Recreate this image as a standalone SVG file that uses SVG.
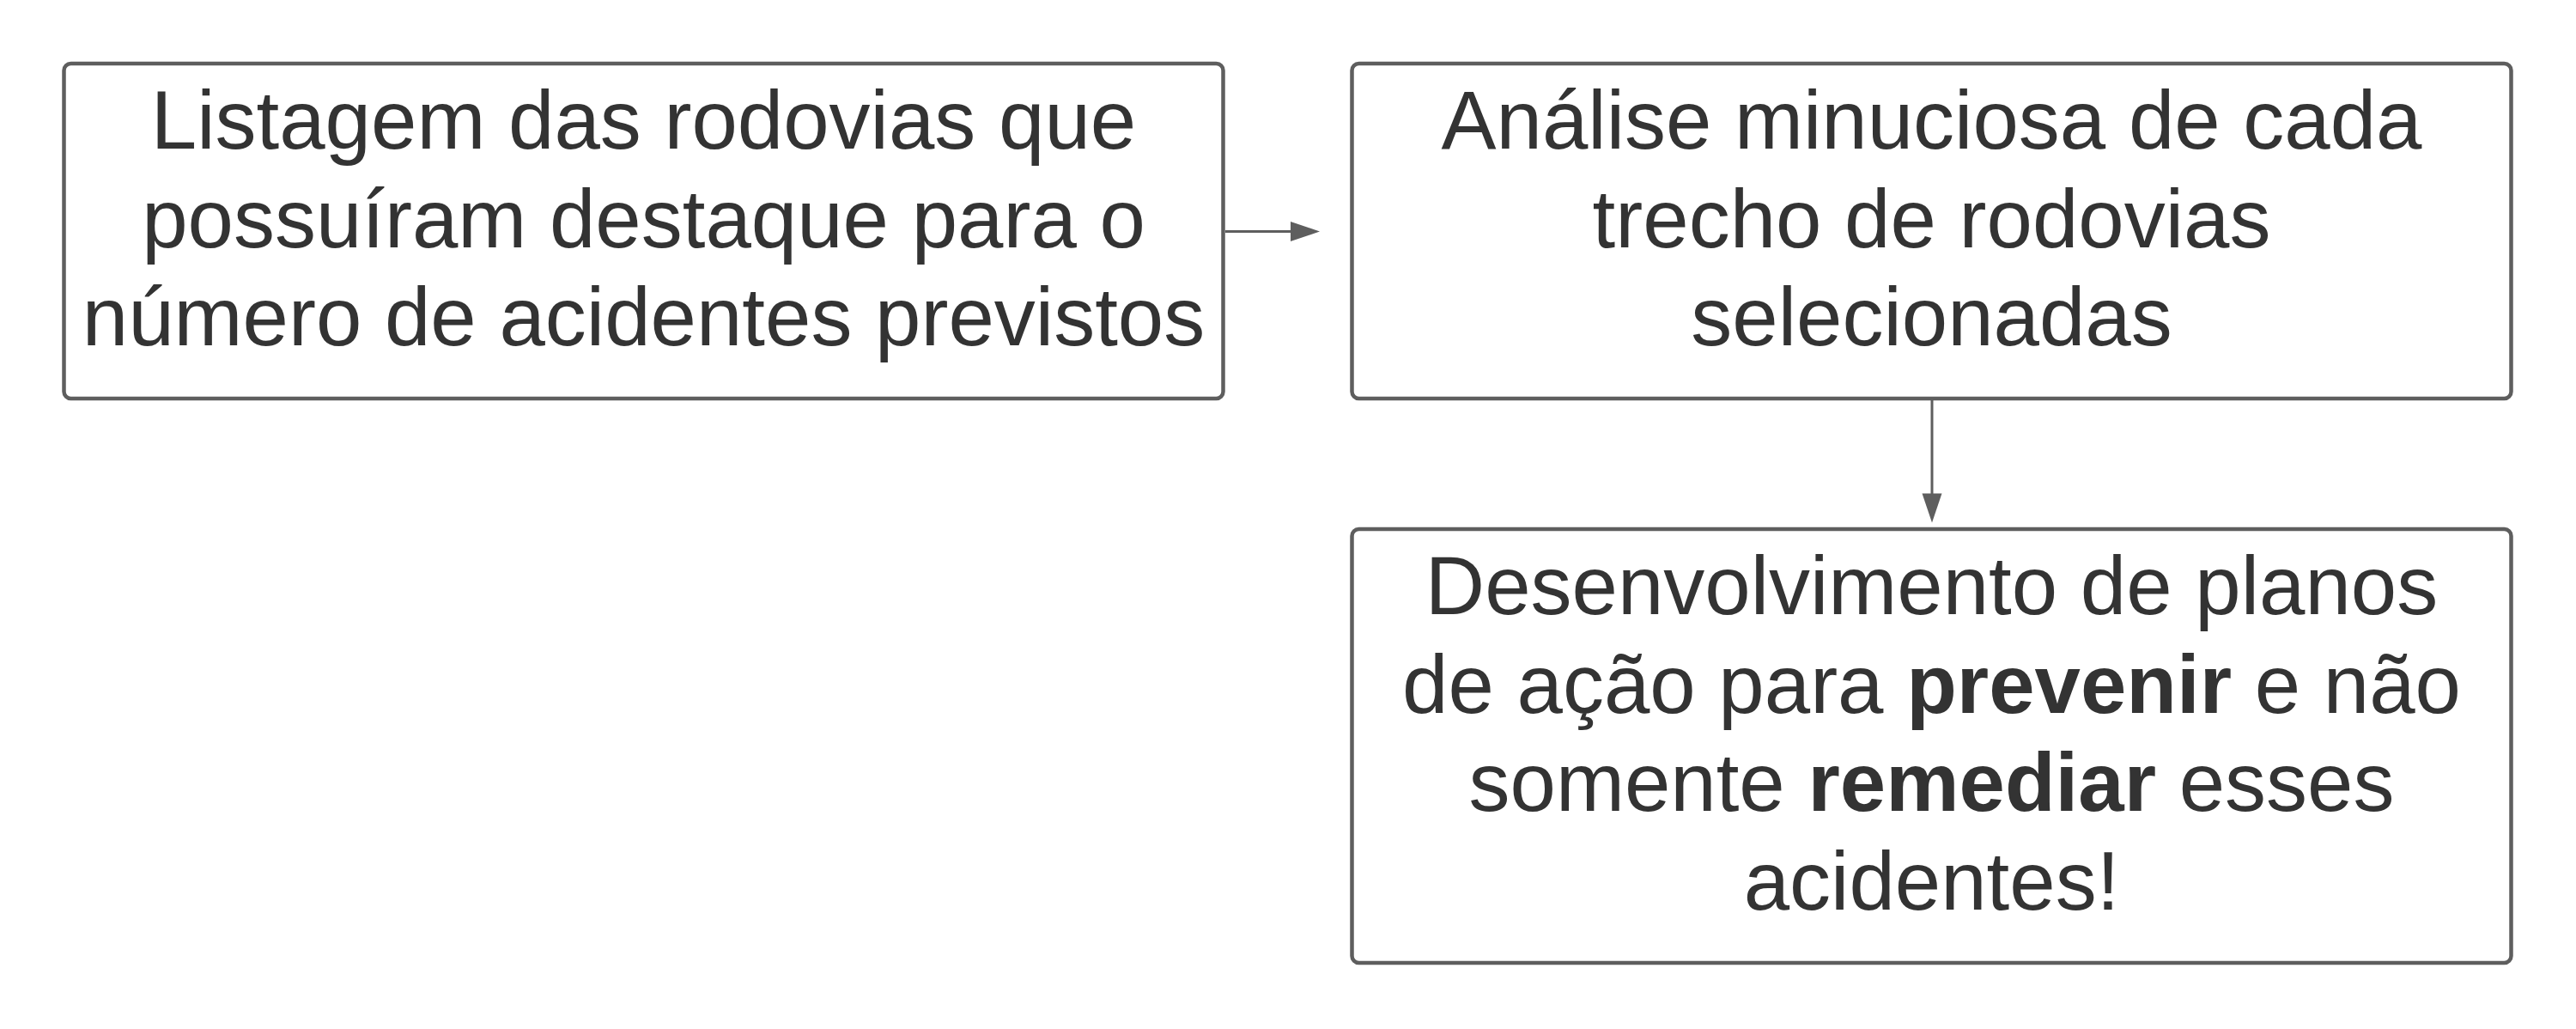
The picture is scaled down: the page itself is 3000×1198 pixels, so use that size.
<svg xmlns="http://www.w3.org/2000/svg" width="3000" height="1198" viewBox="0 0 3000 1198">
<defs>
<style>
.box{fill:#ffffff;stroke:#5e5e5e;stroke-width:4.5}
.t{font-family:"Liberation Sans",Arial,sans-serif;font-size:96px;fill:#333333;text-anchor:middle}
.b{font-weight:bold}
.c{stroke:#5e5e5e;stroke-width:3;fill:none}
.ah{fill:#5e5e5e;stroke:none}
</style>
</defs>
<rect width="3000" height="1198" fill="#ffffff"/>
<g id="node1">
<rect class="box" x="74.5" y="74" width="1350" height="390" rx="8"/>
<text class="t" x="749.5" y="173">Listagem das rodovias que</text>
<text class="t" x="749.5" y="287.5">possuíram destaque para o</text>
<text class="t" x="749.5" y="402">número de acidentes previstos</text>
</g>
<g id="node2">
<rect class="box" x="1574.5" y="74" width="1350" height="390" rx="8"/>
<text class="t" x="2249.5" y="173">Análise minuciosa de cada</text>
<text class="t" x="2249.5" y="287.5">trecho de rodovias</text>
<text class="t" x="2249.5" y="402">selecionadas</text>
</g>
<g id="node3">
<rect class="box" x="1574.5" y="616" width="1350" height="505" rx="8"/>
<text class="t" x="2249.5" y="715">Desenvolvimento de planos</text>
<text class="t" x="2249.5" y="829.5">de ação para <tspan class="b">prevenir</tspan> e não</text>
<text class="t" x="2249.5" y="944">somente <tspan class="b">remediar</tspan> esses</text>
<text class="t" x="2249.5" y="1058.5">acidentes!</text>
</g>
<g id="connectors">
<line class="c" x1="1427" y1="269.5" x2="1504" y2="269.5"/>
<polygon class="ah" points="1503,258 1537,269.5 1503,281"/>
<line class="c" x1="2250" y1="466" x2="2250" y2="576"/>
<polygon class="ah" points="2238.5,574.5 2261.5,574.5 2250,608.5"/>
</g>
</svg>
